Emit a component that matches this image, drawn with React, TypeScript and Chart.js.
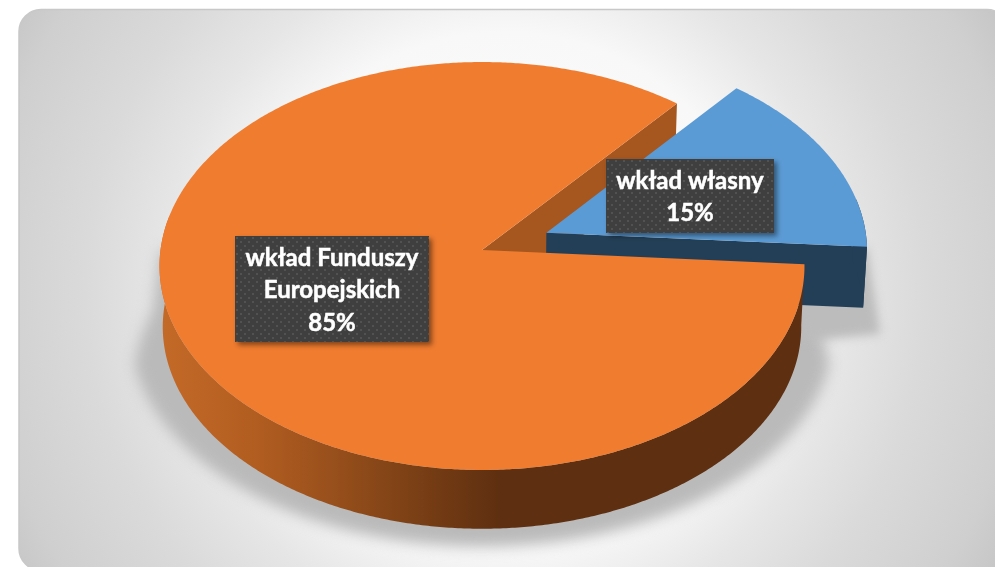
import React, { useEffect, useRef } from "react";
import { Chart, registerables, ArcElement, PieController } from "chart.js";

const categories = ["wkład własny", "wkład Funduszy Europejskich"];
const values = [15, 85];
const labelLines = [["wkład własny"], ["wkład Funduszy", "Europejskich"]];
const sliceColors = ["#5b9bd5", "#f07c2f"];
const cutWallColors = ["#233f57", "#a6561f"];
const labelBoxes = [
  { x: 606, y: 159, w: 168, h: 74, first: 181 },
  { x: 235, y: 236, w: 194, h: 106, first: 258 },
];

const W = 995;
const H = 567;
const RADIUS = 322;
const EXPLODE = 70.5;
const ROTATION = 40;
const LINE_H = 32.5;
const TILT_T = -0.0784;
const K_X = 0.9984;
const K_Y = 0.6295;
const FLOOR_S = 0.99;
const DEPTH = 61;
const RAD = Math.PI / 180;

type P = [number, number];

function project(cx: number, cy: number, wx: number, wy: number, floor: boolean): P {
  const den = 1 + TILT_T * wy;
  let sx = (RADIUS * K_X * wx) / den;
  let sy = (RADIUS * K_Y * wy) / den;
  if (floor) {
    sx *= FLOOR_S;
    sy = sy * FLOOR_S + DEPTH;
  }
  return [cx + sx, cy + sy];
}

function trace(ctx: CanvasRenderingContext2D, pts: P[]) {
  ctx.beginPath();
  pts.forEach((p, i) => (i ? ctx.lineTo(p[0], p[1]) : ctx.moveTo(p[0], p[1])));
  ctx.closePath();
}

class Arc3D extends (ArcElement as any) {
  static id = "arc3d";

  centre(): P {
    const area = (this as any).$context.chart.chartArea;
    return [(area.left + area.right) / 2, (area.top + area.bottom) / 2];
  }

  apex(): P {
    const [cx, cy] = this.centre();
    const self = this as any;
    const mid = (self.startAngle + self.endAngle) / 2;
    const off = (self.options.offset || 0) / self.outerRadius;
    return [
      (self.x - cx) / self.outerRadius + Math.cos(mid) * off,
      (self.y - cy) / self.outerRadius + Math.sin(mid) * off,
    ];
  }

  rim(theta: number, floor: boolean): P {
    const [cx, cy] = this.centre();
    const [ax, ay] = this.apex();
    return project(cx, cy, ax + Math.cos(theta), ay + Math.sin(theta), floor);
  }

  rimRange(a: number, b: number, floor: boolean): P[] {
    const n = Math.max(2, Math.ceil(Math.abs(b - a) / (0.5 * RAD)));
    const out: P[] = [];
    for (let i = 0; i <= n; i++) out.push(this.rim(a + ((b - a) * i) / n, floor));
    return out;
  }

  apexPoint(floor: boolean): P {
    const [cx, cy] = this.centre();
    const [ax, ay] = this.apex();
    return project(cx, cy, ax, ay, floor);
  }

  drawCutWall(ctx: CanvasRenderingContext2D, color: string) {
    const self = this as any;
    trace(ctx, [
      this.apexPoint(false),
      this.rim(self.endAngle, false),
      this.rim(self.endAngle, true),
      this.apexPoint(true),
    ]);
    ctx.fillStyle = color;
    ctx.fill();
  }

  drawOuterWall(ctx: CanvasRenderingContext2D, fill: string | CanvasGradient) {
    const self = this as any;
    const a = Math.max(self.startAngle, -10 * RAD);
    const b = Math.min(self.endAngle, 190 * RAD);
    const top = this.rimRange(a, b, false);
    const bottom = this.rimRange(b, a, true);
    trace(ctx, [...top, ...bottom]);
    ctx.fillStyle = fill;
    ctx.fill();
  }

  draw(ctx: CanvasRenderingContext2D) {
    const self = this as any;
    trace(ctx, [this.apexPoint(false), ...this.rimRange(self.startAngle, self.endAngle, false)]);
    ctx.fillStyle = self.options.backgroundColor;
    ctx.fill();
  }
}

class Pie3DController extends (PieController as any) {
  static id = "pie3d";
  static defaults = { dataElementType: "arc3d" };

  draw() {
    const self = this as any;
    const ctx: CanvasRenderingContext2D = self.chart.ctx;
    const arcs: any[] = self._cachedMeta.data;
    const [blue, orange] = arcs;

    // soft floor shadow
    ctx.save();
    ctx.filter = "blur(7px)";
    ctx.fillStyle = "#bababa";
    const [cx] = blue.centre();
    const pts: P[] = [orange.rim(4 * RAD, false)];
    for (let d = 4; d <= 180; d += 1) {
      const t = d * RAD;
      const p = orange.rim(t, true);
      const grow = 1.035 + 0.07 * Math.min(1, Math.max(0, Math.sin(t)) / 0.25);
      pts.push([cx + (p[0] - cx) * grow, p[1] + 18 * Math.sin(t)]);
    }
    pts.push(orange.rim(180 * RAD, false));
    trace(ctx, pts);
    ctx.fill();
    ctx.filter = "blur(5px)";
    ctx.fillStyle = "#bcbcbc";
    const r = blue.rim(blue.endAngle, false);
    const b = blue.rim(blue.endAngle, true);
    trace(ctx, [r, [b[0] + 17, b[1] + 26], [b[0] - 60, b[1] + 34], [b[0] - 70, b[1] - 10]]);
    ctx.fill();
    ctx.restore();

    // walls, back to front
    const grad = ctx.createLinearGradient(160, 0, 500, 0);
    grad.addColorStop(0, "#c46a28");
    grad.addColorStop(0.3, "#b05c20");
    grad.addColorStop(0.5, "#99501c");
    grad.addColorStop(0.71, "#7f4216");
    grad.addColorStop(1, "#5e2f10");
    orange.drawCutWall(ctx, cutWallColors[1]);
    blue.drawCutWall(ctx, cutWallColors[0]);
    blue.drawOuterWall(ctx, cutWallColors[0]);
    orange.drawOuterWall(ctx, grad);

    (PieController.prototype as any).draw.call(this);
  }
}

Chart.register(...registerables, Arc3D as any, Pie3DController as any);

function roundedPanel(ctx: CanvasRenderingContext2D) {
  ctx.beginPath();
  ctx.roundRect(19, 9.5, 990, 561, 22);
}

const panelPlugin = {
  id: "panel",
  beforeDraw(chart: any) {
    const ctx: CanvasRenderingContext2D = chart.ctx;
    ctx.save();
    ctx.fillStyle = "#ffffff";
    ctx.fillRect(0, 0, W, H);
    const g = ctx.createRadialGradient(505, 290, 0, 505, 290, 600);
    g.addColorStop(0, "#ffffff");
    g.addColorStop(0.43, "#f8f8f8");
    g.addColorStop(0.57, "#e6e6e6");
    g.addColorStop(0.7, "#dadada");
    g.addColorStop(0.87, "#cfcfcf");
    g.addColorStop(1, "#bfbfbf");
    roundedPanel(ctx);
    ctx.fillStyle = g;
    ctx.fill();
    ctx.strokeStyle = "#c8c8c8";
    ctx.lineWidth = 1.5;
    ctx.stroke();
    ctx.restore();
  },
};

function dotPattern(ctx: CanvasRenderingContext2D) {
  const tile = document.createElement("canvas");
  tile.width = 8;
  tile.height = 8;
  const t = tile.getContext("2d")!;
  t.fillStyle = "#3f3f3f";
  t.fillRect(0, 0, 8, 8);
  t.fillStyle = "#525252";
  t.fillRect(1, 1, 2, 2);
  t.fillRect(5, 5, 2, 2);
  return ctx.createPattern(tile, "repeat")!;
}

const labelPlugin = {
  id: "sliceLabels",
  afterDatasetsDraw(chart: any) {
    const ctx: CanvasRenderingContext2D = chart.ctx;
    const total = values.reduce((a, b) => a + b, 0);
    const pattern = dotPattern(ctx);
    values.forEach((v, i) => {
      const box = labelBoxes[i];
      ctx.save();
      ctx.shadowColor = "rgba(0,0,0,0.45)";
      ctx.shadowBlur = 5;
      ctx.shadowOffsetX = 3;
      ctx.shadowOffsetY = 3;
      ctx.fillStyle = "#3f3f3f";
      ctx.fillRect(box.x, box.y, box.w, box.h);
      ctx.restore();
      ctx.save();
      ctx.translate(box.x, box.y);
      ctx.fillStyle = pattern;
      ctx.fillRect(0, 0, box.w, box.h);
      ctx.restore();
      ctx.save();
      ctx.fillStyle = "#ffffff";
      ctx.strokeStyle = "#ffffff";
      ctx.lineWidth = 0.5;
      ctx.font = "bold 24px Lato, 'Open Sans', sans-serif";
      ctx.textAlign = "center";
      ctx.textBaseline = "middle";
      const lines = [...labelLines[i], `${Math.round((v / total) * 100)}%`];
      lines.forEach((line, j) => {
        ctx.fillText(line, box.x + box.w / 2, box.first + j * LINE_H);
        ctx.strokeText(line, box.x + box.w / 2, box.first + j * LINE_H);
      });
      ctx.restore();
    });
  },
};

export default function App() {
  const ref = useRef<HTMLCanvasElement>(null);
  useEffect(() => {
    document.body.style.margin = "0";
    const chart = new Chart(ref.current!, {
      type: "pie3d" as any,
      data: {
        labels: categories,
        datasets: [
          {
            data: values,
            backgroundColor: sliceColors,
            borderWidth: 0,
            offset: [EXPLODE, 0],
            radius: RADIUS,
            rotation: ROTATION,
            clip: false,
          } as any,
        ],
      },
      options: {
        responsive: false,
        animation: false,
        events: [],
        layout: { padding: { left: 0, right: 31, top: 0, bottom: 67 } },
        plugins: { legend: { display: false }, tooltip: { enabled: false } },
      } as any,
      plugins: [panelPlugin, labelPlugin],
    });
    return () => chart.destroy();
  }, []);
  return <canvas ref={ref} width={W} height={H} style={{ display: "block" }} />;
}
